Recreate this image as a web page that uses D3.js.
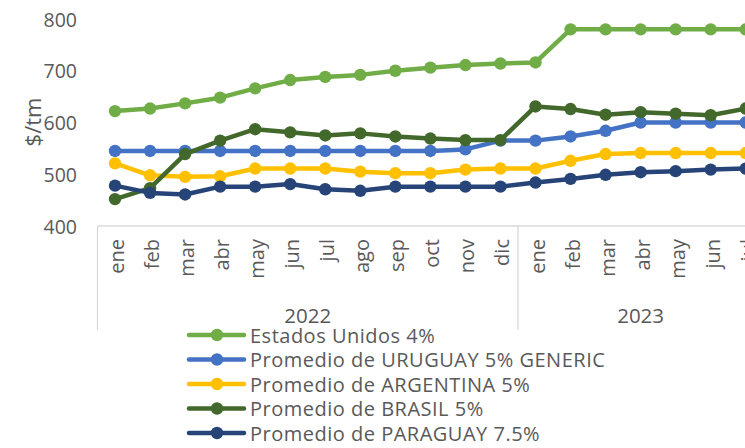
<!DOCTYPE html>
<html>
<head>
<meta charset="utf-8">
<script src="https://cdn.jsdelivr.net/npm/d3@7"></script>
<style>
  html, body { margin: 0; padding: 0; background: #fff; }
  svg { display: block; overflow: hidden; }
  text { font-family: "Open Sans", sans-serif; fill: #595959; }
</style>
</head>
<body>
<div id="chart"></div>
<script>
// months shown on the category axis (two years, chart cut off at jul 2023)
const months2022 = ["ene","feb","mar","abr","may","jun","jul","ago","sep","oct","nov","dic"];
const months2023 = ["ene","feb","mar","abr","may","jun","jul"];
const years = ["2022", "2023"];
const yTicks = [400, 500, 600, 700, 800];

const seriesNames = [
  "Estados Unidos 4%",
  "Promedio de URUGUAY 5% GENERIC",
  "Promedio de ARGENTINA 5%",
  "Promedio de BRASIL 5%",
  "Promedio de PARAGUAY 7.5%"
];
const estadosUnidos = [622, 627, 637, 648, 666, 682, 688, 692, 700, 706, 711, 714, 716, 780, 780, 780, 780, 780, 780];
const uruguay       = [545, 545, 545, 545, 545, 545, 545, 545, 545, 545, 548, 565, 565, 573, 584, 600, 600, 600, 600];
const argentina     = [521, 498, 495, 496, 511, 511, 511, 505, 502, 502, 509, 511, 511, 526, 539, 541, 541, 541, 541];
const brasil        = [452, 473, 539, 565, 587, 581, 575, 579, 573, 569, 566, 566, 631, 626, 615, 620, 617, 614, 627];
const paraguay      = [478, 464, 461, 476, 476, 481, 471, 468, 476, 476, 476, 476, 484, 491, 499, 504, 506, 509, 511];
const colors = ["#70AD47", "#4472C4", "#FFC000", "#43682B", "#264478"];

const width = 745, height = 448;
const plotLeft = 97.5, band = 35.04;
const cats = [...months2022.map((m, i) => "2022-" + i), ...months2023.map((m, i) => "2023-" + i)];
const catLabels = [...months2022, ...months2023];

const svg = d3.select("#chart").append("svg")
  .attr("width", width).attr("height", height);

const x = d3.scaleBand().domain(cats).range([plotLeft, plotLeft + band * cats.length]).padding(0);
const y = d3.scaleLinear().domain([400, 800]).range([226, 19]);

// y tick labels (no axis line)
svg.append("g").selectAll("text").data(yTicks).join("text")
  .attr("x", 77).attr("y", d => y(d))
  .attr("text-anchor", "end").attr("dominant-baseline", "central")
  .style("font-size", "19.5px").text(d => d);

// y title
svg.append("text")
  .attr("transform", "translate(32,122) rotate(-90)")
  .attr("text-anchor", "middle").attr("dominant-baseline", "central")
  .style("font-size", "22px").text("$/tm");

// category axis: baseline + group borders
const axisY = y(400);
const axisG = svg.append("g").attr("stroke", "#d9d9d9").attr("stroke-width", 1.3);
axisG.append("line").attr("x1", plotLeft).attr("x2", x.range()[1]).attr("y1", axisY).attr("y2", axisY);
const groupEdges = [plotLeft, x("2023-0"), x.range()[1]];
groupEdges.forEach(gx => {
  axisG.append("line").attr("x1", gx).attr("x2", gx).attr("y1", axisY).attr("y2", 330);
});

// month labels, rotated
svg.append("g").selectAll("text").data(cats).join("text")
  .attr("transform", d => `translate(${x(d) + x.bandwidth() / 2 + 1.5},239) rotate(-90)`)
  .attr("text-anchor", "end").attr("dominant-baseline", "central")
  .style("font-size", "20px")
  .text((d, i) => catLabels[i]);

// year labels centered in their groups
years.forEach((yr, i) => {
  svg.append("text")
    .attr("x", (groupEdges[i] + groupEdges[i + 1]) / 2).attr("y", 315)
    .attr("text-anchor", "middle").attr("dominant-baseline", "central")
    .style("font-size", "20.5px").text(yr);
});

// series
const allSeries = [estadosUnidos, uruguay, argentina, brasil, paraguay];
const line = d3.line().x((d, i) => x(cats[i]) + x.bandwidth() / 2).y(d => y(d));

allSeries.forEach((vals, s) => {
  const g = svg.append("g");
  g.append("path").datum(vals)
    .attr("fill", "none").attr("stroke", colors[s])
    .attr("stroke-width", 4.5).attr("stroke-linejoin", "round")
    .attr("d", line);
  g.selectAll("circle").data(vals).join("circle")
    .attr("cx", (d, i) => x(cats[i]) + x.bandwidth() / 2)
    .attr("cy", d => y(d))
    .attr("r", 6.2).attr("fill", colors[s]);
});

// legend
const legend = svg.append("g");
seriesNames.forEach((name, i) => {
  const ly = 335 + i * 24.5;
  const item = legend.append("g").attr("transform", `translate(0,${ly})`);
  item.append("line").attr("x1", 189).attr("x2", 244).attr("y1", 0).attr("y2", 0)
    .attr("stroke", colors[i]).attr("stroke-width", 4.5).attr("stroke-linecap", "round");
  item.append("circle").attr("cx", 217).attr("cy", 0).attr("r", 6.2).attr("fill", colors[i]);
  item.append("text").attr("x", 250).attr("y", 0).attr("dominant-baseline", "central")
    .style("font-size", "20px").style("letter-spacing", "0.5px").text(name);
});
</script>
</body>
</html>
